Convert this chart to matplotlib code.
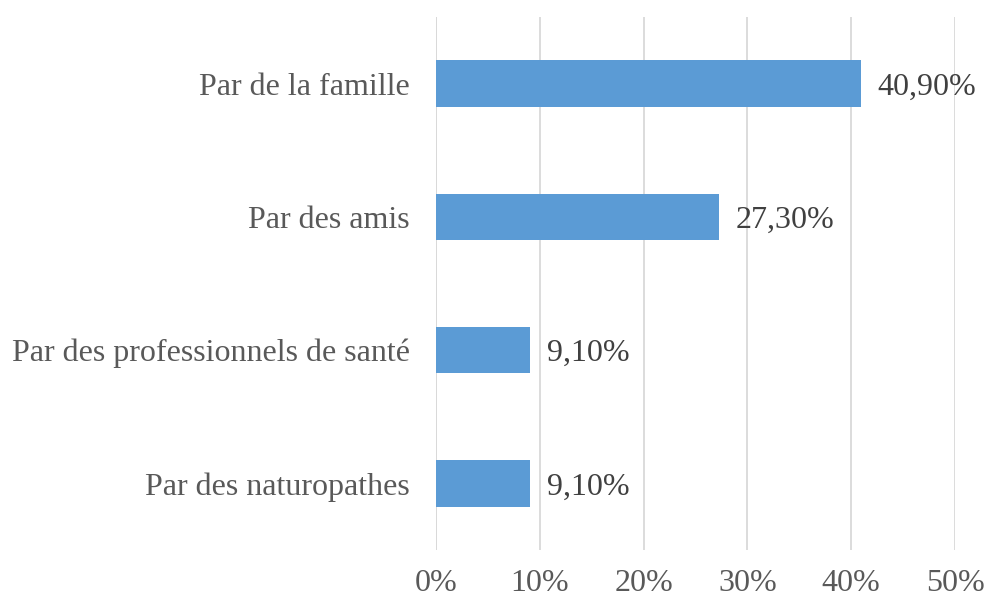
import matplotlib
matplotlib.use("Agg")
import matplotlib.pyplot as plt

categories = ["Par de la famille", "Par des amis", "Par des professionnels de santé", "Par des naturopathes"]
values = [40.9, 27.3, 9.1, 9.1]
labels = ["40,90%", "27,30%", "9,10%", "9,10%"]
xticks = [0, 10, 20, 30, 40, 50]

plt.rcParams['font.family'] = ['Liberation Serif', 'DejaVu Serif']

fig = plt.figure(figsize=(9.85, 6), dpi=100)
ax = fig.add_axes([0.4426, 0.0833, 0.527, 0.8883])

y = list(range(len(categories)))
ax.barh(y, values, height=0.35, color="#5B9BD5", zorder=3)
for yi, v, t in zip(y, values, labels):
    ax.text(v + 1.6, yi, t, va="center_baseline", ha="left", fontsize=23, color="#404040")

ax.set_ylim(len(categories) - 0.5, -0.5)
ax.set_xlim(0, 50)
ax.set_xticks(xticks)
ax.set_xticklabels([f"{t}%" for t in xticks])
ax.set_yticks(y)
ax.set_yticklabels(categories)
ax.tick_params(axis="x", length=0, pad=14, labelsize=23, labelcolor="#595959")
ax.tick_params(axis="y", length=0, pad=19, labelsize=23, labelcolor="#595959")
ax.grid(axis="x", color="#D9D9D9", linewidth=1.3, zorder=0)
for s in ax.spines.values():
    s.set_visible(False)
ax.axvline(0, color="#D9D9D9", linewidth=1.3, zorder=2)

fig.savefig("out.png", dpi=100)
